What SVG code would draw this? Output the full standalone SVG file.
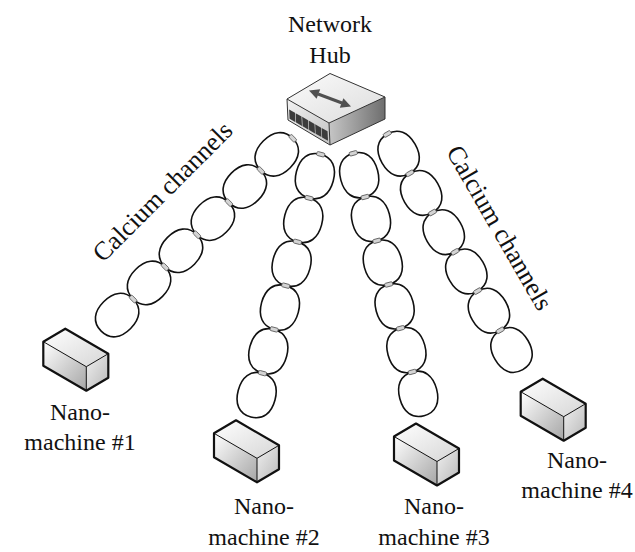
<svg xmlns="http://www.w3.org/2000/svg" xmlns:xlink="http://www.w3.org/1999/xlink" width="635" height="552" viewBox="0 0 635 552">
  <style>
    text { font-family: 'Liberation Serif', 'DejaVu Serif', 'Times New Roman', serif; fill: #111; text-anchor: middle; }
    .lbl { font-size: 24px; }
    .side { font-size: 26px; }
    .loop { fill: none; stroke: #111; stroke-width: 1.6; }
    .joint { fill: #d4d4d4; stroke: #555; stroke-width: 0.8; }
    .edge { fill: none; stroke: #111; stroke-width: 2.2; stroke-linejoin: round; }
    .inner { fill: none; stroke: #111; stroke-width: 1; }
    .hubedge { fill: none; stroke: #333; stroke-width: 1; stroke-linejoin: round; }
  </style>
  <defs>
    <linearGradient id="gTop" x1="0" y1="0" x2="1" y2="1">
      <stop offset="0" stop-color="#ffffff"/>
      <stop offset="1" stop-color="#d6d6d6"/>
    </linearGradient>
    <linearGradient id="gFront" x1="0" y1="0" x2="1" y2="1">
      <stop offset="0" stop-color="#ffffff"/>
      <stop offset="1" stop-color="#a6a6a6"/>
    </linearGradient>
    <linearGradient id="gEnd" x1="0" y1="0" x2="1" y2="1">
      <stop offset="0" stop-color="#f0f0f0"/>
      <stop offset="1" stop-color="#b8b8b8"/>
    </linearGradient>
    <linearGradient id="gHubTop" x1="0" y1="0" x2="1" y2="1">
      <stop offset="0" stop-color="#fbfbfb"/>
      <stop offset="1" stop-color="#dcdcdc"/>
    </linearGradient>
    <linearGradient id="gHubLeft" x1="0" y1="0" x2="1" y2="1">
      <stop offset="0" stop-color="#f2f2f2"/>
      <stop offset="1" stop-color="#c4c4c4"/>
    </linearGradient>
    <linearGradient id="gHubRight" x1="0" y1="0" x2="1" y2="0">
      <stop offset="0" stop-color="#c6c6c6"/>
      <stop offset="1" stop-color="#6e6e6e"/>
    </linearGradient>

    <!-- one link of a channel chain: axis along +y, length 45.3 -->
    <path id="loop" class="loop" d="M0,0 C12.5,0 19,9 19,22.65 C19,36.3 12.5,45.3 0,45.3 C-12.5,45.3 -19,36.3 -19,22.65 C-19,9 -12.5,0 0,0 Z"/>
    <rect id="joint" class="joint" x="-4" y="-2" width="8" height="4" rx="1.2"/>

    <!-- a chain of six links with its joints -->
    <g id="chain">
      <use xlink:href="#loop" y="0"/>
      <use xlink:href="#loop" y="45.3"/>
      <use xlink:href="#loop" y="90.6"/>
      <use xlink:href="#loop" y="135.9"/>
      <use xlink:href="#loop" y="181.2"/>
      <use xlink:href="#loop" y="226.5"/>
      <use xlink:href="#joint" y="0"/>
      <use xlink:href="#joint" y="45.3"/>
      <use xlink:href="#joint" y="90.6"/>
      <use xlink:href="#joint" y="135.9"/>
      <use xlink:href="#joint" y="181.2"/>
      <use xlink:href="#joint" y="226.5"/>
    </g>

    <!-- nano-machine block, origin at its left corner -->
    <g id="block">
      <polygon points="0,0 22,-13 65,12 43,25" fill="url(#gTop)"/>
      <polygon points="0,0 43,25 43,49 0,24" fill="url(#gFront)"/>
      <polygon points="43,25 65,12 65,36 43,49" fill="url(#gEnd)"/>
      <path class="inner" d="M0,0 L43,25 L65,12 M43,25 L43,49"/>
      <path class="edge" d="M0,0 L22,-13 L65,12 L65,36 L43,49 L0,24 Z"/>
    </g>
  </defs>

  <!-- connectors: calcium channel chains -->
  <g id="connectors">
    <use xlink:href="#chain" transform="translate(292.7,138.3) rotate(44.8)"/>
    <use xlink:href="#chain" transform="translate(320.7,154.3) rotate(14.9)"/>
    <use xlink:href="#chain" transform="translate(353.3,153.3) rotate(-15.1)"/>
    <use xlink:href="#chain" transform="translate(387.3,134) rotate(-29.9)"/>
  </g>

  <text class="side" font-family="Liberation Serif, serif" transform="translate(163,192) rotate(-45)" y="8">Calcium channels</text>
  <text class="side" font-family="Liberation Serif, serif" transform="translate(499,228) rotate(60)" y="8">Calcium channels</text>

  <!-- network hub -->
  <g id="hub">
    <polygon points="330,73.5 385,97 329,123 287,99" fill="url(#gHubTop)"/>
    <polygon points="287,99 329,123 330,145 288,120" fill="url(#gHubLeft)"/>
    <polygon points="329,123 385,97 385,119 330,145" fill="url(#gHubRight)"/>
    <!-- port row on the front face -->
    <g transform="matrix(42,24,1,21,287,99)" fill="#3c3c3c">
      <polygon points="0.04,0.45 0.18,0.45 0.18,0.9 0.04,0.9"/>
      <polygon points="0.195,0.45 0.335,0.45 0.335,0.9 0.195,0.9"/>
      <polygon points="0.35,0.45 0.49,0.45 0.49,0.9 0.35,0.9"/>
      <polygon points="0.505,0.45 0.645,0.45 0.645,0.9 0.505,0.9"/>
      <polygon points="0.66,0.45 0.8,0.45 0.8,0.9 0.66,0.9"/>
      <polygon points="0.815,0.45 0.955,0.45 0.955,0.9 0.815,0.9"/>
    </g>
    <path class="hubedge" d="M330,73.5 L385,97 L385,119 L330,145 L288,120 L287,99 Z M287,99 L329,123 L385,97 M329,123 L330,145"/>
    <!-- two-way arrow on the lid -->
    <line x1="318" y1="94" x2="342" y2="103" stroke="#505050" stroke-width="3"/>
    <polygon points="309,90.5 316.6,98.7 320.2,89.3" fill="#505050"/>
    <polygon points="351,106.5 339.8,107.7 343.4,98.3" fill="#505050"/>
    <text class="lbl" font-family="Liberation Serif, serif" x="330" y="32">Network</text>
    <text class="lbl" font-family="Liberation Serif, serif" x="330" y="63">Hub</text>
  </g>

  <g id="nano1">
    <use xlink:href="#block" x="43.3" y="341.7"/>
    <text class="lbl" font-family="Liberation Serif, serif" x="80" y="420">Nano-</text>
    <text class="lbl" font-family="Liberation Serif, serif" x="80" y="450">machine #1</text>
  </g>
  <g id="nano2">
    <use xlink:href="#block" x="214" y="433.3"/>
    <text class="lbl" font-family="Liberation Serif, serif" x="264" y="514">Nano-</text>
    <text class="lbl" font-family="Liberation Serif, serif" x="264" y="545">machine #2</text>
  </g>
  <g id="nano3">
    <use xlink:href="#block" x="394" y="436.5"/>
    <text class="lbl" font-family="Liberation Serif, serif" x="434" y="514">Nano-</text>
    <text class="lbl" font-family="Liberation Serif, serif" x="434" y="545">machine #3</text>
  </g>
  <g id="nano4">
    <use xlink:href="#block" x="520.7" y="391.7"/>
    <text class="lbl" font-family="Liberation Serif, serif" x="577" y="468">Nano-</text>
    <text class="lbl" font-family="Liberation Serif, serif" x="577" y="498">machine #4</text>
  </g>
</svg>
